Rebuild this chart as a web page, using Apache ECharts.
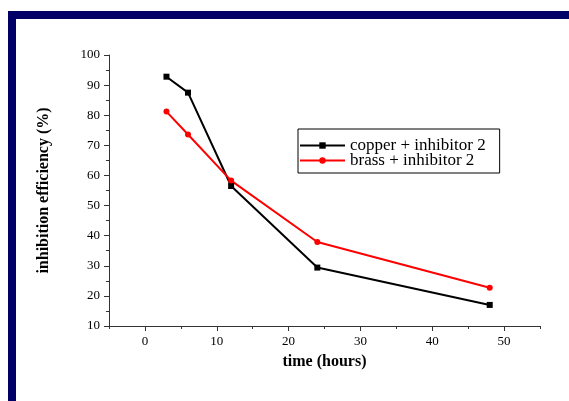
<!DOCTYPE html>
<html>
<head>
<meta charset="utf-8">
<script src="https://cdn.jsdelivr.net/npm/echarts@6/dist/echarts.min.js"></script>
<style>
  html, body { margin: 0; padding: 0; background: #fff; }
  #chart { width: 569px; height: 401px; }
</style>
</head>
<body>
<div id="chart"></div>
<script>
// data
const timeHours = [3, 6, 12, 24, 48];
const copperIE = [92.8, 87.5, 56.5, 29.4, 17.0];
const brassIE = [81.2, 73.6, 58.3, 37.9, 22.7];
const xLabels = [0, 10, 20, 30, 40, 50];

const serif = 'Liberation Serif';

function pairs(xs, ys) {
  return xs.map(function (x, i) { return [x, ys[i]]; });
}

var chart = echarts.init(document.getElementById('chart'));

var option = {
  backgroundColor: '#fff',
  animation: false,
  textStyle: { fontFamily: serif },
  graphic: [
    // navy frame on top and left
    { type: 'rect', shape: { x: 8, y: 11, width: 561, height: 8 }, style: { fill: '#000066' } },
    { type: 'rect', shape: { x: 8, y: 11, width: 8, height: 390 }, style: { fill: '#000066' } }
  ],
  grid: { left: 109, right: 29, top: 55, bottom: 75 },
  legend: {
    orient: 'vertical',
    left: 298,
    top: 129,
    padding: [8, 14, 4, 1],
    itemGap: -2,
    itemWidth: 45,
    itemHeight: 8,
    borderColor: '#000',
    borderWidth: 1,
    textStyle: { fontFamily: serif, fontSize: 17, color: '#000' },
    data: ['copper + inhibitor 2', 'brass + inhibitor 2']
  },
  xAxis: [
    {
      type: 'value',
      min: -5, max: 55, interval: 5,
      name: 'time (hours)',
      nameLocation: 'middle',
      nameGap: 28,
      nameTextStyle: { fontFamily: serif, fontSize: 16, fontWeight: 'bold', color: '#000' },
      axisLine: { show: true, onZero: false, lineStyle: { color: '#333', width: 1 } },
      axisTick: { show: true, length: 5, customValues: xLabels, lineStyle: { color: '#333' } },
      axisLabel: { customValues: xLabels, margin: 9, fontFamily: serif, fontSize: 13, color: '#000' },
      splitLine: { show: false }
    },
    {
      type: 'value',
      min: -5, max: 55, interval: 5,
      position: 'bottom',
      axisLine: { show: false, onZero: false },
      axisTick: { show: true, length: 3, lineStyle: { color: '#333' } },
      axisLabel: { show: false },
      splitLine: { show: false }
    }
  ],
  yAxis: {
    type: 'value',
    min: 10, max: 100, interval: 10,
    name: 'inhibition efficiency (%)',
    nameLocation: 'middle',
    nameGap: 57,
    nameTextStyle: { fontFamily: serif, fontSize: 16, fontWeight: 'bold', color: '#000' },
    axisLine: { show: true, onZero: false, lineStyle: { color: '#333', width: 1 } },
    axisTick: { show: true, length: 5, lineStyle: { color: '#333' } },
    minorTick: { show: true, splitNumber: 2, length: 3, lineStyle: { color: '#333' } },
    axisLabel: { margin: 9, fontFamily: serif, fontSize: 13, color: '#000' },
    splitLine: { show: false }
  },
  series: [
    {
      name: 'copper + inhibitor 2',
      type: 'line',
      xAxisIndex: 0,
      data: pairs(timeHours, copperIE),
      symbol: 'rect',
      symbolSize: 6,
      color: '#000',
      lineStyle: { width: 2, color: '#000' },
      itemStyle: { color: '#000' }
    },
    {
      name: 'brass + inhibitor 2',
      type: 'line',
      xAxisIndex: 0,
      data: pairs(timeHours, brassIE),
      symbol: 'circle',
      symbolSize: 6,
      color: '#ff0000',
      lineStyle: { width: 2, color: '#ff0000' },
      itemStyle: { color: '#ff0000' }
    }
  ]
};

chart.setOption(option);
</script>
</body>
</html>
